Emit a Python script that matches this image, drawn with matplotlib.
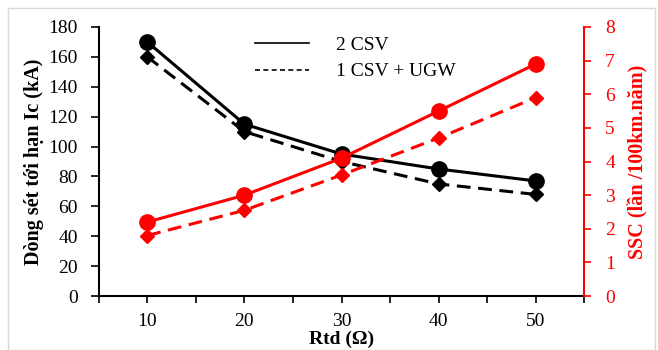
import numpy as np
import matplotlib
matplotlib.use("Agg")
import matplotlib.pyplot as plt
from matplotlib.lines import Line2D
from matplotlib.patches import Rectangle

rtd = [10, 20, 30, 40, 50]
ic_2csv = [170, 115, 95, 85, 77]
ic_ugw = [160, 110, 90, 75, 68]
ssc_2csv = [2.2, 3.0, 4.1, 5.5, 6.9]
ssc_ugw = [1.8, 2.55, 3.6, 4.7, 5.9]

RED = "#ff0000"
plt.rcParams.update({"font.family": ["Liberation Serif", "DejaVu Serif"], "font.size": 14})

fig = plt.figure(figsize=(6.58, 3.5), dpi=100)
fig.patches.append(Rectangle((0.012, 0.0), 0.984, 0.977, transform=fig.transFigure,
                             fill=False, edgecolor="#d9d9d9", lw=1.0))
ax = fig.add_axes([0.150, 0.154, 0.738, 0.769])
ax2 = ax.twinx()

ax.plot(rtd, ic_2csv, "-", color="black", lw=2.2, marker="o", ms=11, zorder=3)
ax.plot(rtd, ic_ugw, "--", color="black", lw=2.2, marker="D", ms=7.5, dashes=(4.5, 2.5), zorder=3)
ax2.plot(rtd, ssc_2csv, "-", color=RED, lw=2.2, marker="o", ms=11, zorder=3)
ax2.plot(rtd, ssc_ugw, "--", color=RED, lw=2.2, marker="D", ms=7.5, dashes=(4.5, 2.5), zorder=3)

ax.set_xlim(5, 55)
ax.set_ylim(0, 180)
ax.set_yticks(np.arange(0, 181, 20))
ax.set_xticks(np.arange(10, 51, 10))
ax.set_xticks(np.arange(5, 56, 5), minor=True)
ax.tick_params(axis="x", which="both", direction="out", length=5, width=1.2, pad=7)
ax.tick_params(axis="y", direction="out", length=6, width=1.2, pad=9)
ax2.set_ylim(0, 8)
ax2.set_yticks(np.arange(0, 9, 1))
ax2.tick_params(axis="y", colors=RED, direction="out", length=5, width=1.2, pad=10)

for s in ("top", "right"):
    ax.spines[s].set_visible(False)
for s in ("top", "left", "bottom"):
    ax2.spines[s].set_visible(False)
ax2.spines["right"].set_color(RED)
ax2.spines["right"].set_linewidth(1.5)
ax.spines["left"].set_linewidth(1.5)
ax.spines["bottom"].set_linewidth(1.5)

ax.set_ylabel("Dòng sét tới hạn Ic (kA)", fontweight="bold", fontsize=14.5, labelpad=3)
ax2.set_ylabel("SSC (lần /100km.năm)", fontweight="bold", fontsize=14.5, color=RED, labelpad=10)
ax.set_xlabel("Rtd (Ω)", fontweight="bold", fontsize=14, labelpad=1)

handles = [Line2D([], [], color="black", lw=1.2, ls="-"),
           Line2D([], [], color="black", lw=1.2, ls="--", dashes=(3, 2))]
ax.legend(handles, ["2 CSV", "1 CSV + UGW"], loc="upper left", bbox_to_anchor=(0.285, 1.03),
          frameon=False, handlelength=2.8, handletextpad=1.4, labelspacing=0.45, fontsize=14)

fig.savefig("out.png", dpi=100)
